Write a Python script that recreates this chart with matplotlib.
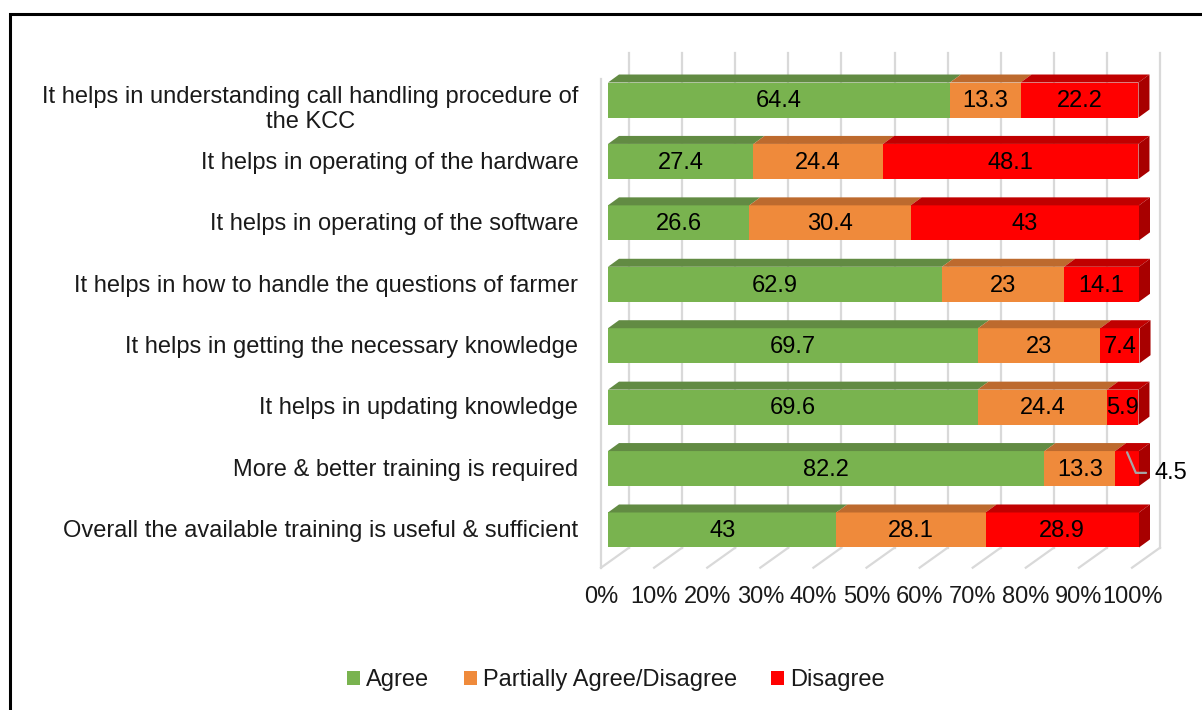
import matplotlib
matplotlib.use("Agg")
import matplotlib.pyplot as plt
from matplotlib.patches import Polygon, Rectangle, Patch
import numpy as np

# data ------------------------------------------------------------------
statements = [
    "It helps in understanding call handling procedure of\nthe KCC",
    "It helps in operating of the hardware",
    "It helps in operating of the software",
    "It helps in how to handle the questions of farmer",
    "It helps in getting the necessary knowledge",
    "It helps in updating knowledge",
    "More & better training is required",
    "Overall the available training is useful & sufficient",
]
agree = [64.4, 27.4, 26.6, 62.9, 69.7, 69.6, 82.2, 43]
partial = [13.3, 24.4, 30.4, 23, 23, 24.4, 13.3, 28.1]
disagree = [22.2, 48.1, 43, 14.1, 7.4, 5.9, 4.5, 28.9]
series_names = ["Agree", "Partially Agree/Disagree", "Disagree"]
tick_vals = list(range(0, 101, 10))
tick_labels = [f"{v}%" for v in tick_vals]

# style -----------------------------------------------------------------
front = ["#79B34F", "#EF8A3B", "#FF0000"]
top = ["#628B43", "#BD6A2E", "#C00000"]
side = ["#4F7235", "#9A5524", "#A80000"]
grid_c = "#D9D9D9"
FS = 17
plt.rcParams["font.family"] = ["Liberation Sans", "DejaVu Sans"]

W, H = 1202, 710
fig = plt.figure(figsize=(W / 100, H / 100), dpi=100)

# axes placed so that 0..100 spans the bar front faces
x0_px, x1_px = 608, 1139
y_top_px, y_bot_px = 69.3, 560.7
ax = fig.add_axes([x0_px / W, 1 - y_bot_px / H, (x1_px - x0_px) / W,
                   (y_bot_px - y_top_px) / H])
n = len(statements)
ax.set_xlim(0, 100)
ax.set_ylim(n - 0.5, -0.5)
ax.axis("off")

px_x = (x1_px - x0_px) / 100.0          # pixels per percent
px_y = (y_bot_px - y_top_px) / n        # pixels per row

def off(dx, dy):
  # pixel offset -> data offset (dy up is negative data y)
  return dx / px_x, -dy / px_y

# depth offsets in pixels
bdx, bdy = off(11, 8)     # bar depth
wdx, wdy = off(21, 13)    # back wall
fdx, fdy = off(-7, -7)    # front floor edge

# back wall gridlines + floor lines
for v in tick_vals:
  ax.plot([v + wdx, v + wdx], [n - 0.5 + wdy, -0.5 + wdy - 0.05],
          color=grid_c, lw=1.6, zorder=0, clip_on=False)
  ax.plot([v + fdx, v + wdx], [n - 0.5 + fdy, n - 0.5 + wdy],
          color=grid_c, lw=1.6, zorder=0, clip_on=False)
# left wall front edge
ax.plot([fdx, fdx], [n - 0.5 + fdy, -0.5 + fdy + 0.05], color=grid_c,
        lw=1.6, zorder=0, clip_on=False)

# bars
bh = 0.57
data = [agree, partial, disagree]
y = np.arange(n)
left = np.zeros(n)
for k, vals in enumerate(data):
  vals = np.array(vals, dtype=float)
  ax.barh(y, vals, left=left, height=bh, color=front[k], zorder=3,
          edgecolor="none")
  for i in range(n):
    a, b = left[i], left[i] + vals[i]
    t = y[i] - bh / 2
    # top face
    ax.add_patch(Polygon([(a, t), (b, t), (b + bdx, t + bdy),
                          (a + bdx, t + bdy)], closed=True,
                         facecolor=top[k], edgecolor="none", zorder=3,
                         clip_on=False))
    # right side face of the stack
    if k == len(data) - 1:
      ax.add_patch(Polygon([(b, t), (b, t + bh), (b + bdx, t + bh + bdy),
                            (b + bdx, t + bdy)], closed=True,
                           facecolor=side[k], edgecolor="none",
                           zorder=3, clip_on=False))
    if vals[i] >= 5:
      ax.text((a + b) / 2, y[i] + 0.02, f"{vals[i]:g}", ha="center",
              va="center", fontsize=FS, color="black", zorder=5)
    else:
      # small value: label outside with a leader line
      ax.annotate(f"{vals[i]:g}", xy=((a + b) / 2, t + 0.02),
                  xytext=(b + 2.9, y[i] + 0.07), textcoords="data",
                  ha="left", va="center", fontsize=FS, color="black",
                  zorder=5, annotation_clip=False,
                  arrowprops=dict(arrowstyle="-", color="#A6A6A6",
                                  lw=1.6, shrinkA=4, shrinkB=0,
                                  connectionstyle="angle,angleA=0,angleB=-67,rad=0"))
  left = left + vals

# category labels
for i, s in enumerate(statements):
  ax.text(-5.6, y[i] + (0.15 if "\n" in s else 0.02), s, ha="right",
          va="center", multialignment="center", fontsize=FS,
          color="#1A1A1A", linespacing=1.18, clip_on=False)

# tick labels along front floor edge
for v, lab in zip(tick_vals, tick_labels):
  ax.text(v + fdx, n - 0.5 + 36 / px_y, lab, ha="center", va="center",
          fontsize=FS, color="#1A1A1A", clip_on=False)

# legend
handles = [Patch(facecolor=front[k], edgecolor="none") for k in range(3)]
fig.legend(handles, series_names, loc="center", ncol=3,
           bbox_to_anchor=(616 / W, 1 - 680 / H), frameon=False,
           fontsize=FS, handlelength=0.55, handleheight=0.55,
           handletextpad=0.25, columnspacing=1.45, labelcolor="#1A1A1A")

# outer frame (cut off at right/bottom like the source)
fig.add_artist(Rectangle((10 / W, -0.1), 1.2, 1.1 - 14 / H,
                         transform=fig.transFigure, fill=False,
                         edgecolor="black", lw=2.2))

fig.savefig("out.png", dpi=100)
